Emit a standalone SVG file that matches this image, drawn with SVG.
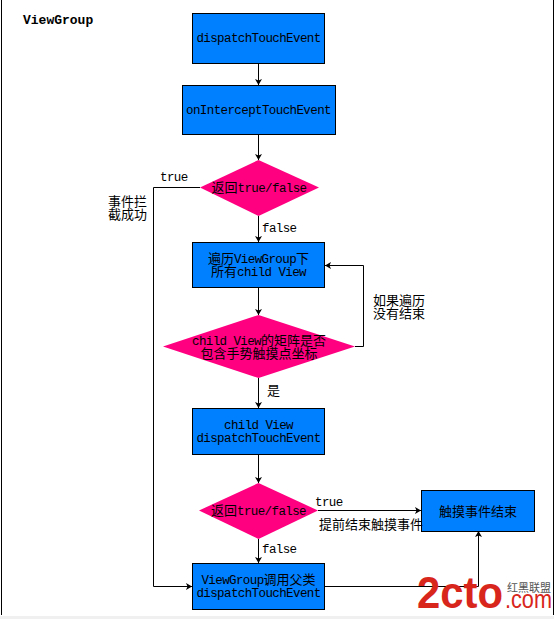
<svg xmlns="http://www.w3.org/2000/svg" width="554" height="619" viewBox="0 0 554 619">
<style>
text{font-family:"Liberation Mono","Noto Sans CJK SC",monospace;font-size:12.5px;letter-spacing:-.6px;fill:#000}
.m{text-anchor:middle}
.c{font-family:"Noto Sans CJK SC",sans-serif;font-size:13px;letter-spacing:0}
.box{fill:#007fff;stroke:#000;stroke-width:1}
.dia{fill:#ff0080;stroke:none}
.line{fill:none;stroke:#000;stroke-width:1}
.wm{font-family:"Liberation Sans",sans-serif;fill:#d8261c;letter-spacing:0}
</style>
<defs>
<marker id="a" markerUnits="userSpaceOnUse" markerWidth="7" markerHeight="7" refX="6" refY="3.500" orient="auto"><path d="M0 0L6 3.500L0 7L1.500 3.500Z" fill="#000"/></marker>
</defs>
<rect width="554" height="619" fill="#fff"/>
<rect x="0" y="616" width="554" height="3" fill="#f0f0f0"/>
<path d="M1.500 0V615M553.500 0V615" class="line"/>
<text x="23" y="24" style="font-weight:bold;font-size:13px;letter-spacing:0">ViewGroup</text>
<g id="connectors">
<path class="line" marker-end="url(#a)" d="M258.500 63V85"/>
<path class="line" marker-end="url(#a)" d="M258.500 134V160"/>
<path class="line" marker-end="url(#a)" d="M258.500 216V242"/>
<path class="line" marker-end="url(#a)" d="M258.500 287V315"/>
<path class="line" marker-end="url(#a)" d="M258.500 378V408"/>
<path class="line" marker-end="url(#a)" d="M258.500 454V483"/>
<path class="line" marker-end="url(#a)" d="M258.500 539V563"/>
<path class="line" marker-end="url(#a)" d="M355 346.500H363.500V265.500H325"/>
<path class="line" marker-end="url(#a)" d="M200 187.500H153.500V586.500H192"/>
<path class="line" marker-end="url(#a)" d="M318 510.500H421"/>
<path class="line" marker-end="url(#a)" d="M325 586.500H478.500V531"/>
</g>
<g id="n1"><rect class="box" x="192.500" y="13.500" width="132" height="50"/><text class="m" x="258.500" y="42">dispatchTouchEvent</text></g>
<g id="n2"><rect class="box" x="182.500" y="85.500" width="153" height="49"/><text class="m" x="258.500" y="114">onInterceptTouchEvent</text></g>
<g id="n3"><polygon class="dia" points="200,187.500 258.500,160 319,187.500 258.500,216"/><text class="m" x="259" y="192"><tspan class="c">返回</tspan>true/false</text></g>
<g id="n4"><rect class="box" x="192.500" y="242.500" width="132" height="45"/><text class="m" x="258.500" y="263"><tspan class="c">遍历</tspan>ViewGroup<tspan class="c">下</tspan></text><text class="m" x="258.500" y="275.500"><tspan class="c">所有</tspan>child View</text></g>
<g id="n5"><polygon class="dia" points="163,346.500 258.500,315 355,346.500 258.500,378"/><text class="m" x="259" y="344.500">child View<tspan class="c">的矩阵是否</tspan></text><text class="m" x="259" y="358"><tspan class="c">包含手势触摸点坐标</tspan></text></g>
<g id="n6"><rect class="box" x="192.500" y="408.500" width="132" height="46"/><text class="m" x="258.500" y="429">child View</text><text class="m" x="258.500" y="442">dispatchTouchEvent</text></g>
<g id="n7"><polygon class="dia" points="199,510.500 258.500,483 318,510.500 258.500,539"/><text class="m" x="258.500" y="515"><tspan class="c">返回</tspan>true/false</text></g>
<g id="n8"><rect class="box" x="192.500" y="563.500" width="132" height="46"/><text class="m" x="258.500" y="584">ViewGroup<tspan class="c">调用父类</tspan></text><text class="m" x="258.500" y="597">dispatchTouchEvent</text></g>
<g id="n9"><rect class="box" x="421.500" y="490.500" width="113" height="41"/><text class="m c" x="478" y="515.500">触摸事件结束</text></g>
<text x="160" y="181">true</text>
<text x="262" y="232">false</text>
<text x="262" y="553">false</text>
<text x="315" y="506">true</text>
<text class="c" x="108" y="206">事件拦</text>
<text class="c" x="108" y="219">截成功</text>
<text class="c" x="373" y="305">如果遍历</text>
<text class="c" x="373" y="318">没有结束</text>
<text class="c" x="267" y="395">是</text>
<text class="c" x="319" y="529">提前结束触摸事件</text>
<g id="watermark">
<text class="wm" x="417" y="608" style="font-size:44px;font-weight:bold" textLength="86" lengthAdjust="spacingAndGlyphs">2cto</text>
<text class="wm" x="505" y="608" style="font-size:26px" textLength="47" lengthAdjust="spacingAndGlyphs">.com</text>
<text x="507" y="592" style="font-family:'Noto Sans CJK SC',sans-serif;font-size:11px;letter-spacing:0;fill:#555">红黑联盟</text>
</g>
</svg>
